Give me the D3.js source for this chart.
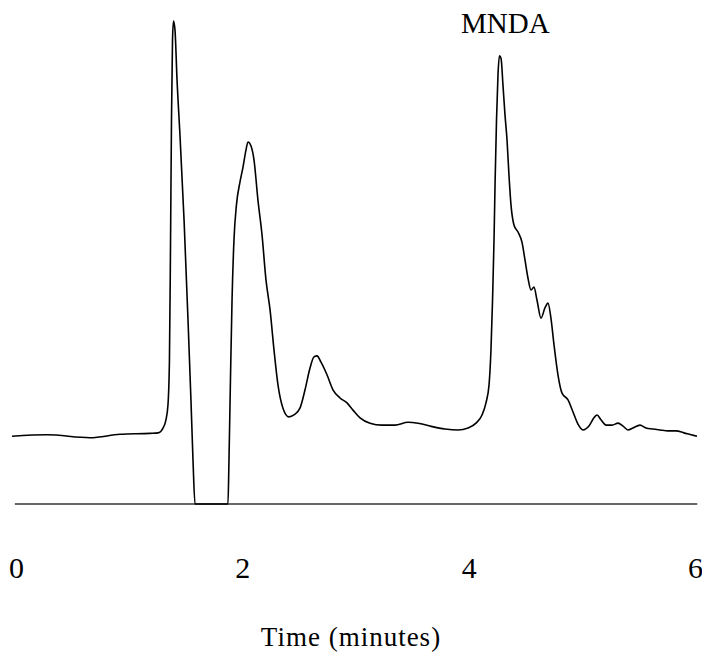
<!DOCTYPE html>
<html>
<head>
<meta charset="utf-8">
<script src="https://cdn.jsdelivr.net/npm/d3@7"></script>
<style>
  html, body { margin: 0; padding: 0; background: #fff; }
  svg { display: block; }
  .axis .domain { stroke: #333; stroke-width: 1.4; }
  .trace { fill: none; stroke: #000; stroke-width: 1.6; stroke-linejoin: round; }
</style>
</head>
<body>
<div id="chart"></div>
<script>
// Retention time (minutes)
const timeMin = [
  -0.035, 0.274, 0.654, 0.919, 1.184, 1.255, 1.299, 1.325, 1.343, 1.356,
  1.365, 1.374, 1.383, 1.392, 1.405, 1.423, 1.449, 1.485, 1.520, 1.546,
  1.564, 1.582, 1.873, 1.882, 1.895, 1.909, 1.926, 1.948, 1.979, 2.006,
  2.032, 2.050, 2.076, 2.103, 2.138, 2.174, 2.209, 2.245, 2.280, 2.315,
  2.359, 2.412, 2.456, 2.509, 2.554, 2.598, 2.633, 2.660, 2.695, 2.748,
  2.801, 2.863, 2.925, 2.978, 3.040, 3.128, 3.234, 3.349, 3.464, 3.552,
  3.658, 3.791, 3.906, 3.994, 4.065, 4.118, 4.153, 4.180, 4.197, 4.211,
  4.224, 4.233, 4.246, 4.259, 4.272, 4.286, 4.303, 4.321, 4.339, 4.356,
  4.374, 4.401, 4.436, 4.471, 4.498, 4.524, 4.551, 4.577, 4.604, 4.639,
  4.674, 4.701, 4.727, 4.754, 4.789, 4.825, 4.878, 4.922, 4.966, 5.010,
  5.063, 5.107, 5.134, 5.169, 5.214, 5.267, 5.320, 5.364, 5.408, 5.452,
  5.514, 5.567, 5.629, 5.691, 5.762, 5.832, 5.903, 5.965, 6.018
];

// Detector response (relative units, clipped at 0 by the recorder)
const response = [
  14.0, 14.3, 13.7, 14.4, 14.6, 14.7, 15.7, 17.4, 20.5, 29.8,
  52.5, 79.3, 95.9, 99.8, 97.9, 87.6, 76.2, 58.7, 38.0, 21.5,
  9.1, 0, 0, 9.1, 25.6, 42.1, 54.5, 61.8, 66.5, 69.6,
  73.1, 74.8, 74.0, 71.1, 62.8, 55.6, 46.3, 40.1, 31.8, 24.6,
  19.8, 18.0, 18.4, 19.8, 23.6, 28.1, 30.4, 30.6, 29.3, 26.7,
  23.6, 21.9, 20.9, 19.4, 17.8, 16.7, 16.3, 16.3, 16.9, 16.7,
  16.1, 15.5, 15.3, 15.7, 16.7, 18.4, 20.9, 24.6, 31.8, 42.1,
  54.5, 65.9, 79.3, 88.6, 92.6, 92.1, 86.6, 80.4, 75.2, 68.0,
  61.8, 57.6, 56.2, 54.1, 50.4, 46.7, 44.2, 44.8, 42.1, 38.4,
  40.5, 41.5, 38.4, 32.9, 26.7, 22.9, 21.5, 19.0, 16.5, 15.3,
  16.1, 17.8, 18.4, 17.4, 16.3, 16.3, 16.7, 16.1, 15.3, 15.7,
  16.3, 15.7, 15.5, 15.3, 15.1, 15.1, 14.7, 14.3, 14.0
];

const xTicks = [0, 2, 4, 6];
const peakLabel = { text: 'MNDA', time: 4.28 };
const xTitle = 'Time (minutes)';

const width = 702, height = 654;
const serif = '"Liberation Serif", "Times New Roman", serif';

const svg = d3.select('#chart').append('svg')
  .attr('width', width)
  .attr('height', height);

const x = d3.scaleLinear().domain([0, 6]).range([16, 695]);
const y = d3.scaleLinear().domain([0, 100]).range([504, 20]);

// baseline axis with the time labels
svg.append('g')
  .attr('class', 'axis')
  .attr('transform', `translate(0, ${y(0)})`)
  .call(d3.axisBottom(x).tickValues(xTicks).tickSize(0).tickSizeOuter(0).tickFormat(d3.format('d')))
  .attr('font-family', serif)
  .attr('font-size', 30)
  .call(g => g.selectAll('.tick line').remove())
  .call(g => g.select('.domain').attr('d', `M${x(-0.01)},0H${x(6.02)}`))
  .call(g => g.selectAll('.tick text')
    .attr('dy', null)
    .attr('y', 74)
    .attr('fill', '#000')
    .attr('font-family', serif)
    .attr('font-size', 30));

const points = timeMin.map((t, i) => ({ t, v: response[i] }));

const line = d3.line()
  .x(d => x(d.t))
  .y(d => y(d.v))
  .curve(d3.curveMonotoneX);

svg.append('path')
  .datum(points)
  .attr('class', 'trace')
  .attr('d', line);

svg.append('text')
  .attr('x', x(peakLabel.time) + 5)
  .attr('y', 33)
  .attr('text-anchor', 'middle')
  .attr('font-family', serif)
  .attr('font-size', 29)
  .attr('fill', '#000')
  .text(peakLabel.text);

svg.append('text')
  .attr('x', 351)
  .attr('y', 646)
  .attr('text-anchor', 'middle')
  .attr('font-family', serif)
  .attr('font-size', 27)
  .attr('letter-spacing', 1)
  .attr('fill', '#000')
  .text(xTitle);
</script>
</body>
</html>
